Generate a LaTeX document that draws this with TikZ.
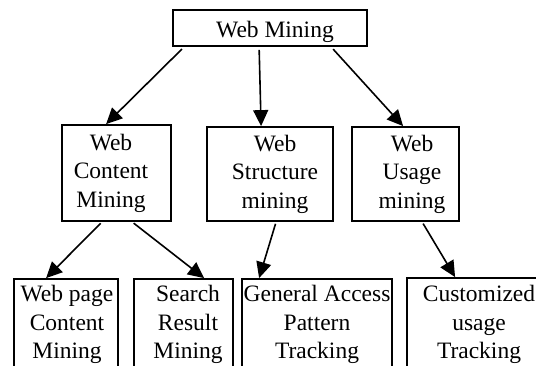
\documentclass[tikz,border=0pt]{standalone}
\usepackage{fontspec}
\setmainfont{Liberation Serif}
\usetikzlibrary{arrows.meta}

\tikzset{
  box/.style={draw=black, line width=1.8pt, fill=white, inner sep=0pt},
  txt/.style={align=center, inner sep=0pt, font=\rmfamily\fontsize{23.5}{28.5}\selectfont},
  link/.style={draw=black, line width=1.6pt, -{Triangle[length=16pt,width=15pt]}}
}

\begin{document}
\begin{tikzpicture}[x=1pt, y=-1pt]
  \useasboundingbox (0,0) rectangle (536,365);
  \clip (0,0) rectangle (536,365);

  % boxes
  \node[box, minimum width=194pt, minimum height=36pt] (top) at (270,28) {};
  \node[box, minimum width=109pt, minimum height=96pt] (content) at (116.5,173) {};
  \node[box, minimum width=126pt, minimum height=94pt] (structure) at (270,174) {};
  \node[box, minimum width=107pt, minimum height=94pt] (usage) at (405.5,174) {};
  \node[box, minimum width=104pt, minimum height=122pt] (page) at (66,340) {};
  \node[box, minimum width=99pt, minimum height=122pt] (search) at (183.5,340) {};
  \node[box, minimum width=150pt, minimum height=122pt] (general) at (317,340) {};
  \node[box, minimum width=146pt, minimum height=124pt] (custom) at (480,340) {};

  % box texts
  \node[txt] (ltop) at (275,31.5) {Web Mining};
  \node[txt] (lcontent) at (111,173) {Web\\Content\\Mining};
  \node[txt] (lstructure) at (275,174) {Web\\Structure\\mining};
  \node[txt] (lusage) at (412,174) {Web\\Usage\\mining};
  \node[txt] (lpage) at (67,324.5) {Web page\\Content\\Mining};
  \node[txt] (lsearch) at (188,324.5) {Search\\Result\\Mining};
  \node[txt] (lgeneral) at (317,324.5) {General Access\\Pattern\\Tracking};
  \node[txt] (lcustom) at (479,324.5) {Customized\\usage\\Tracking};

  % connectors
  \draw[link, shorten <=3pt] ([xshift=12pt]top.south west) -- ([xshift=45pt]content.north west);
  \draw[link, shorten <=3pt] ([xshift=87pt]top.south west) -- ([xshift=55pt]structure.north west);
  \draw[link, shorten <=3pt] ([xshift=159pt]top.south west) -- ([xshift=52pt]usage.north west);
  \draw[link, shorten <=2pt] ([xshift=41pt]content.south west) -- ([xshift=33pt]page.north west);
  \draw[link, shorten <=2pt] ([xshift=71pt]content.south west) -- ([xshift=71pt]search.north west);
  \draw[link, shorten <=2pt] ([xshift=70pt]structure.south west) -- ([xshift=18pt]general.north west);
  \draw[link, shorten <=2pt] ([xshift=71pt]usage.south west) -- ([xshift=49pt]custom.north west);
\end{tikzpicture}
\end{document}
